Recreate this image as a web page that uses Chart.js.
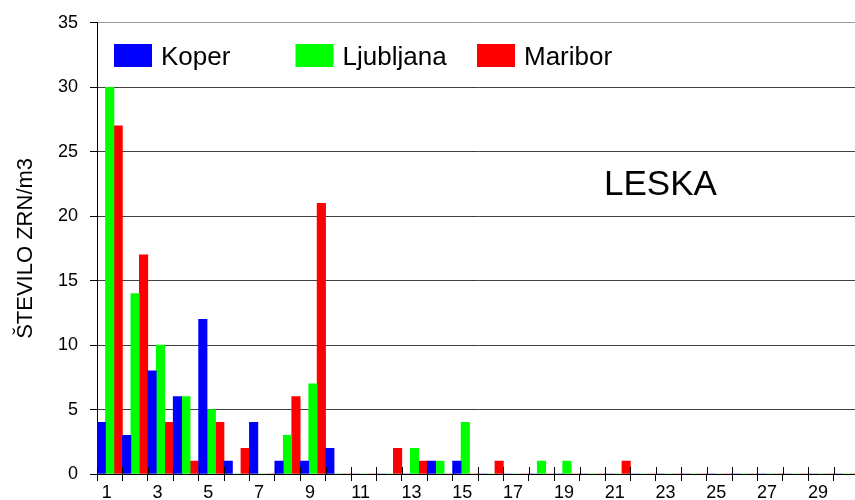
<!DOCTYPE html>
<html>
<head>
<meta charset="utf-8">
<title>LESKA</title>
<script src="https://cdn.jsdelivr.net/npm/chart.js@4/dist/chart.umd.min.js"></script>
<style>
  html, body { margin: 0; padding: 0; background: #fff; overflow: hidden; }
  canvas { display: block; }
</style>
</head>
<body>
<canvas id="pollenChart" width="870" height="500"></canvas>
<script>
// days of the month
const days = ['1', '2', '3', '4', '5', '6', '7', '8', '9', '10',
  '11', '12', '13', '14', '15', '16', '17', '18', '19', '20',
  '21', '22', '23', '24', '25', '26', '27', '28', '29', '30'];
const shownDays = ['1', '3', '5', '7', '9', '11', '13', '15', '17', '19',
  '21', '23', '25', '27', '29'];

// pollen grains per m3
const koper = [4, 3, 8, 6, 12, 1, 4, 1, 1, 2, 0, 0, 0, 1, 1,
  0, 0, 0, 0, 0, 0, 0, 0, 0, 0, 0, 0, 0, 0, 0];
const ljubljana = [30, 14, 10, 6, 5, 0, 0, 3, 7, 0, 0, 0, 2, 1, 4,
  0, 0, 1, 1, 0, 0, 0, 0, 0, 0, 0, 0, 0, 0, 0];
const maribor = [27, 17, 4, 1, 4, 2, 0, 6, 21, 0, 0, 2, 1, 0, 0,
  1, 0, 0, 0, 0, 1, 0, 0, 0, 0, 0, 0, 0, 0, 0];

const yTicks = [0, 5, 10, 15, 20, 25, 30, 35];

const FONT = 'Arial, "Liberation Sans", sans-serif';

// legend in equal slots + the plant name, plus tick marks that cross the x axis
const extras = {
  id: 'extras',
  afterDraw(chart) {
    const ctx = chart.ctx;
    const area = chart.chartArea;
    const x = chart.scales.x;

    ctx.save();
    ctx.strokeStyle = '#000';
    ctx.lineWidth = 1;
    ctx.beginPath();
    for (let i = 0; i <= days.length; i++) {
      const px = Math.round(x.getPixelForValue(i - 0.5)) + 0.5;
      ctx.moveTo(px, area.bottom - 7);
      ctx.lineTo(px, area.bottom);
    }
    ctx.stroke();

    ctx.font = '26px ' + FONT;
    ctx.textBaseline = 'alphabetic';
    ctx.textAlign = 'left';
    chart.data.datasets.forEach((ds, i) => {
      const left = area.left + 17 + i * 181.5;
      ctx.fillStyle = ds.backgroundColor;
      ctx.fillRect(left, 44, 38, 23);
      ctx.fillStyle = '#000';
      ctx.fillText(ds.label, left + 47, 64.5);
    });

    ctx.font = '35px ' + FONT;
    ctx.fillText('LESKA', 604, 195);
    ctx.restore();
  }
};

new Chart(document.getElementById('pollenChart'), {
  type: 'bar',
  data: {
    labels: days,
    datasets: [
      { label: 'Koper', data: koper, backgroundColor: '#0000ff' },
      { label: 'Ljubljana', data: ljubljana, backgroundColor: '#00ff00' },
      { label: 'Maribor', data: maribor, backgroundColor: '#ff0000' }
    ]
  },
  options: {
    responsive: false,
    animation: false,
    devicePixelRatio: 1,
    layout: { padding: { top: 22, right: 11, bottom: 0, left: 0 } },
    datasets: {
      bar: { categoryPercentage: 1.0, barPercentage: 1.0, borderWidth: 0 }
    },
    plugins: {
      legend: { display: false },
      tooltip: { enabled: false }
    },
    scales: {
      x: {
        offset: true,
        afterFit(scale) { scale.height = 26; },
        grid: {
          offset: true,
          drawOnChartArea: false,
          color: '#000',
          tickLength: 7
        },
        border: { color: '#000', width: 1 },
        ticks: {
          autoSkip: false,
          maxRotation: 0,
          minRotation: 0,
          padding: 1,
          labelOffset: -3,
          color: '#000',
          font: { family: FONT, size: 18 },
          callback(value) {
            const day = this.getLabelForValue(value);
            return shownDays.includes(day) ? day : '';
          }
        }
      },
      y: {
        min: yTicks[0],
        max: yTicks[yTicks.length - 1],
        afterFit(scale) { scale.width = 97; },
        afterBuildTicks(scale) { scale.ticks = yTicks.map(v => ({ value: v })); },
        grid: {
          color: ctx => ctx.tick && ctx.tick.value === 35 ? '#9a9a9a' : '#404040',
          tickColor: '#000',
          tickLength: 7
        },
        border: { color: '#000', width: 1 },
        ticks: {
          padding: 12,
          color: '#000',
          font: { family: FONT, size: 18 }
        },
        title: {
          display: true,
          text: 'ŠTEVILO ZRN/m3',
          color: '#000',
          font: { family: FONT, size: 22 },
          padding: { top: 13, bottom: 0 }
        }
      }
    }
  },
  plugins: [extras]
});
</script>
</body>
</html>
